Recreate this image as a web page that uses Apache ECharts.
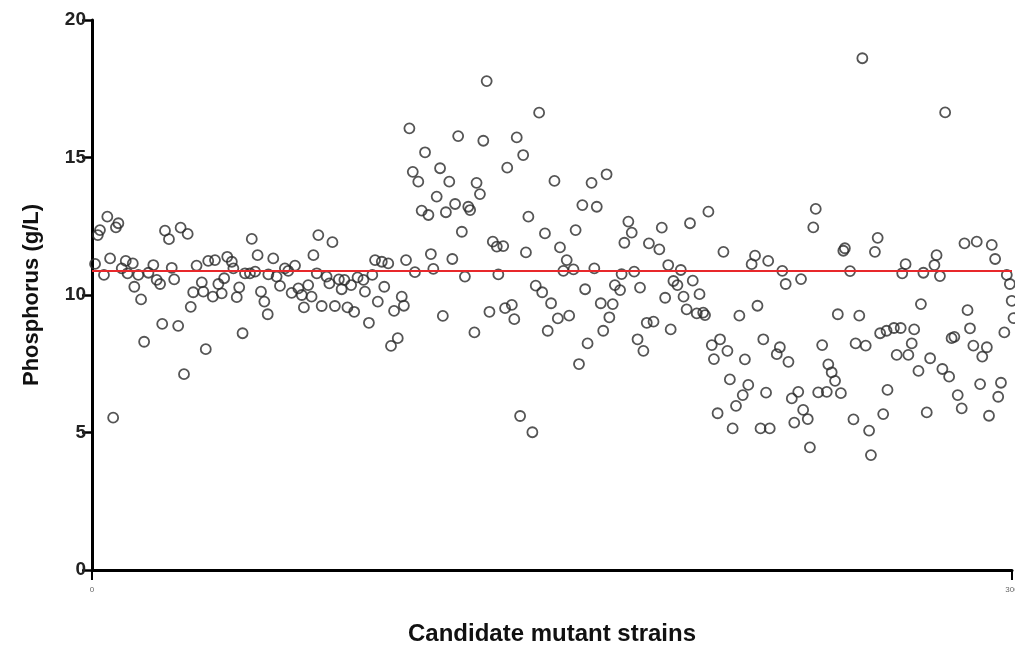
<!DOCTYPE html>
<html>
<head>
<meta charset="utf-8">
<script src="https://cdn.jsdelivr.net/npm/echarts@6/dist/echarts.min.js"></script>
<style>
html,body{margin:0;padding:0;background:#fff;}
#chart{width:1015px;height:650px;}
</style>
</head>
<body>
<div id="chart"></div>
<script>
// Strain index (x) and phosphorus concentration in g/L (y)
const strainIndex = [
1.0,1.9,2.6,3.9,5.0,5.9,6.9,7.8,8.6,9.7,11.0,11.6,13.3,13.8,15.1,16.0,17.0,18.4,20.0,21.1,
22.2,22.9,23.8,25.1,26.0,26.8,28.1,28.9,30.0,31.2,32.2,33.0,34.1,
35.8,36.3,37.1,37.9,39.4,40.1,41.2,42.3,43.1,44.1,45.6,46.1,47.2,48.0,49.1,49.9,51.5,52.1,
53.2,54.0,55.1,56.2,57.3,57.5,59.1,60.2,61.3,62.9,64.0,65.1,66.2,67.3,68.4,69.1,70.5,71.6,
72.2,73.8,73.3,
74.9,76.5,77.4,78.4,79.2,80.5,81.4,82.3,83.3,84.5,85.5,86.6,88.5,89.0,90.3,91.4,92.3,93.2,
94.5,95.3,96.6,97.5,98.5,99.7,
101.0,101.7,102.4,103.5,104.6,105.3,106.4,107.5,108.6,109.7,110.5,111.3,112.4,113.5,114.4,
115.4,116.5,117.5,118.4,119.4,120.6,121.6,122.7,123.3,124.7,125.4,126.5,127.6,128.7,129.6,
130.7,132.0,132.5,134.1,134.7,135.4,136.9,137.7,138.5,139.6,140.6,141.5,142.3,143.6,
144.7,145.8,146.8,147.7,148.6,149.7,150.8,151.9,152.6,153.7,154.8,155.6,157.0,157.7,158.8,
159.9,160.8,161.6,162.9,163.8,164.6,165.9,166.7,167.8,168.7,169.8,170.5,172.2,172.7,173.6,
174.9,176.0,176.8,177.9,178.7,179.8,180.9,181.6,183.1,
185.0,185.8,186.9,187.9,188.7,189.6,190.9,192.0,192.9,193.9,195.0,195.9,197.2,198.1,199.3,
199.9,201.0,202.1,202.8,204.0,204.8,205.9,207.2,208.0,208.9,210.0,211.1,212.2,212.9,214.0,
215.1,216.2,217.0,218.0,218.9,219.8,220.5,221.0,
223.3,224.3,225.1,226.2,227.1,228.2,229.0,230.3,231.2,231.9,233.4,234.1,235.2,236.0,236.8,
238.1,239.6,240.1,241.2,242.3,243.2,244.2,245.0,245.5,247.2,248.3,249.0,250.2,251.2,252.3,
253.4,254.0,255.3,256.2,257.0,258.0,259.1,259.4,
261.5,262.4,263.7,264.2,265.3,266.2,267.3,268.1,269.5,270.3,271.1,272.2,273.3,274.7,275.4,
276.5,277.3,278.2,279.5,280.3,281.2,282.3,283.6,284.5,285.5,286.3,287.4,288.5,289.6,290.3,
291.8,292.5,293.4,294.5,295.5,296.4,297.5,298.3,299.3,299.9,300.5
];
const phosphorus = [
11.13,12.18,12.36,10.73,12.85,11.33,5.54,12.46,12.61,10.97,11.24,10.79,11.15,10.30,10.73,9.84,8.30,10.81,11.09,10.55,
10.40,8.95,12.34,12.03,10.99,10.57,8.88,12.45,7.12,12.22,9.57,10.10,11.07,
10.46,10.12,8.03,11.24,9.94,11.27,10.40,10.06,10.61,11.39,11.21,10.97,9.92,10.28,8.61,10.79,10.79,12.04,
10.85,11.45,10.12,9.76,9.30,10.75,11.33,10.67,10.33,10.97,10.88,10.08,11.07,10.24,10.00,9.55,10.36,9.94,
11.45,12.18,10.79,
9.60,10.67,10.42,11.92,9.60,10.57,10.21,10.55,9.55,10.36,9.39,10.64,10.55,10.12,8.99,10.73,11.27,9.76,
11.21,10.30,11.15,8.15,9.42,8.43,
9.94,9.61,11.27,16.06,14.48,10.83,14.12,13.07,15.19,12.91,11.49,10.95,13.58,14.61,9.24,
13.01,14.12,11.31,13.31,15.78,12.30,10.67,13.21,13.09,8.64,14.08,13.67,15.61,17.78,9.39,
11.94,11.76,10.75,11.78,9.52,14.63,9.64,9.12,15.73,5.60,15.09,11.55,12.85,5.01,
10.34,16.63,10.10,12.24,8.70,9.70,14.15,9.15,11.73,10.88,11.27,9.25,10.93,12.36,7.49,
13.27,10.21,8.24,14.08,10.97,13.21,9.70,8.70,14.39,9.19,9.67,10.36,10.18,10.76,11.90,
12.67,12.27,10.85,8.39,10.27,7.97,8.99,11.88,9.03,
11.66,12.45,9.90,11.09,8.75,10.51,10.36,10.91,9.94,9.48,12.61,10.52,9.33,10.03,9.36,
9.27,13.03,8.18,7.67,5.70,8.39,11.57,7.97,6.93,5.15,5.97,9.25,6.36,7.66,6.73,
11.12,11.43,9.61,5.15,8.39,6.45,11.24,5.15,
7.85,8.10,10.88,10.40,7.57,6.24,5.36,6.48,10.58,5.82,5.49,4.46,12.46,13.13,6.46,
8.18,6.48,7.48,7.19,6.88,9.30,6.43,11.61,11.70,10.87,5.48,8.24,9.25,18.61,8.16,
5.07,4.18,11.57,12.08,8.61,5.67,8.70,6.55,
8.80,7.82,8.80,10.79,11.12,7.82,8.24,8.75,7.24,9.67,10.81,5.73,7.70,11.09,11.45,
10.69,7.31,16.64,7.03,8.43,8.48,6.36,5.88,11.88,9.45,8.79,8.16,11.94,6.76,7.76,
8.10,5.61,11.82,11.31,6.30,6.81,8.64,10.73,10.40,9.79,9.16
];
const referenceLevel = 10.9;
const xTicks = [0, 300];
const yTicks = [0, 5, 10, 15, 20];
const xTitle = 'Candidate mutant strains';
const yTitle = 'Phosphorus (g/L)';

const points = strainIndex.map((x, i) => [x, phosphorus[i]]);

const chart = echarts.init(document.getElementById('chart'), null, {renderer: 'canvas'});
chart.setOption({
  animation: false,
  backgroundColor: '#ffffff',
  grid: {left: 92, right: 3, top: 20, bottom: 80, containLabel: false, outerBoundsMode: 'none'},
  xAxis: {
    type: 'value',
    min: xTicks[0],
    max: xTicks[xTicks.length - 1],
    interval: xTicks[1] - xTicks[0],
    name: xTitle,
    nameLocation: 'middle',
    nameGap: 52,
    nameTextStyle: {fontFamily: 'Liberation Sans, Arial, sans-serif', fontWeight: 'bold', fontSize: 24, color: '#111'},
    axisLine: {show: true, onZero: false, lineStyle: {color: '#000', width: 3}},
    axisTick: {show: true, inside: false, length: 10, lineStyle: {color: '#000', width: 2}},
    axisLabel: {show: true, fontSize: 8, color: '#666', margin: 16, fontFamily: 'Liberation Sans, Arial, sans-serif', showMaxLabel: true, showMinLabel: true},
    splitLine: {show: false}
  },
  yAxis: {
    type: 'value',
    min: yTicks[0],
    max: yTicks[yTicks.length - 1],
    interval: yTicks[1] - yTicks[0],
    name: yTitle,
    nameLocation: 'middle',
    nameGap: 49,
    nameRotate: 90,
    nameTextStyle: {fontFamily: 'Liberation Sans, Arial, sans-serif', fontWeight: 'bold', fontSize: 22, color: '#111'},
    axisLine: {show: true, onZero: false, lineStyle: {color: '#000', width: 3}},
    axisTick: {show: true, inside: false, length: 10, lineStyle: {color: '#000', width: 2.5}},
    axisLabel: {show: true, fontSize: 19, fontWeight: 'bold', color: '#222', margin: 6, fontFamily: 'Liberation Sans, Arial, sans-serif'},
    splitLine: {show: false}
  },
  series: [{
    type: 'scatter',
    data: points,
    clip: false,
    symbol: 'circle',
    symbolSize: 10,
    itemStyle: {color: 'rgba(255,255,255,0)', borderColor: '#2b2b2b', borderWidth: 1.8},
    markLine: {
      silent: true,
      symbol: ['none', 'none'],
      label: {show: false},
      lineStyle: {color: '#e8282b', width: 2, type: 'solid'},
      data: [{yAxis: referenceLevel}]
    }
  }]
});
</script>
</body>
</html>
